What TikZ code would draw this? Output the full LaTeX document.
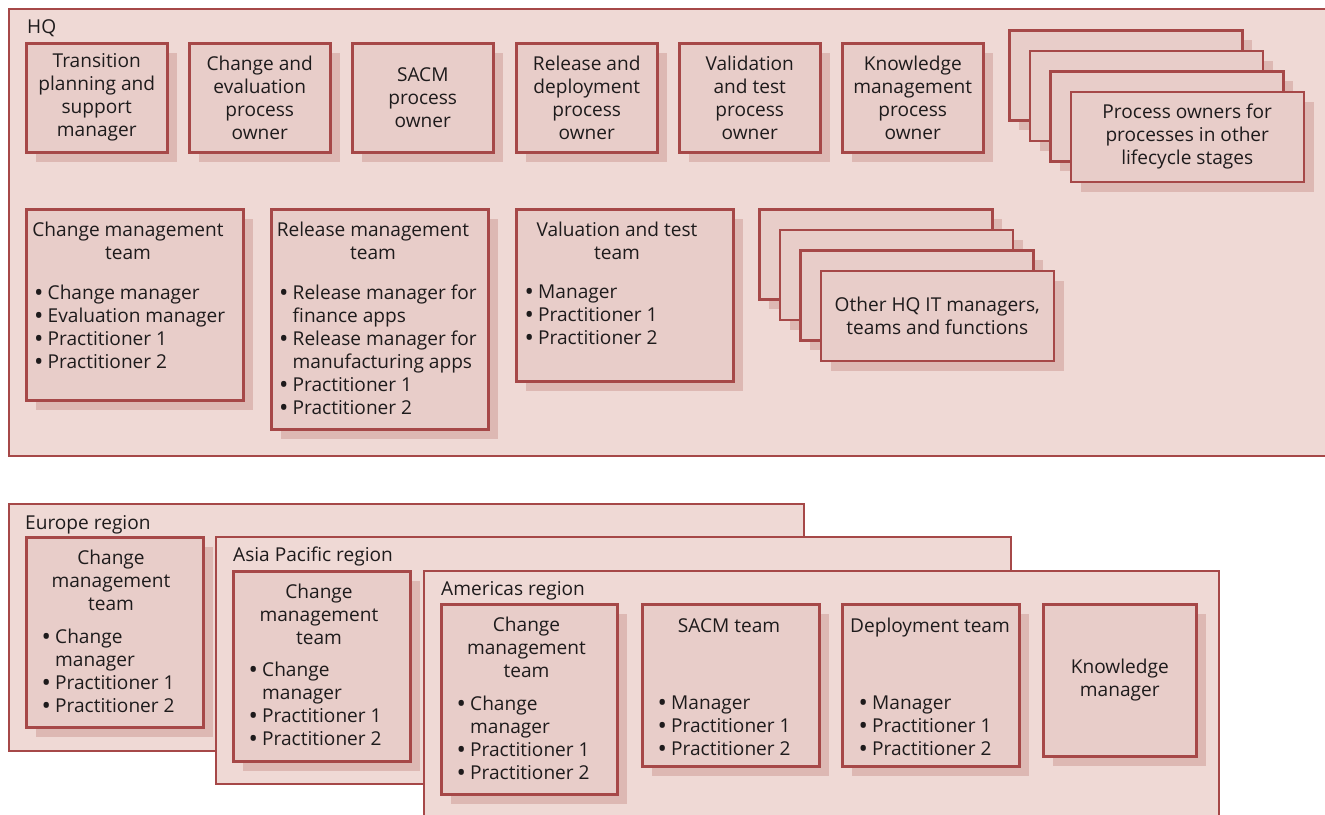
\documentclass[tikz,border=0pt]{standalone}
\usepackage{fontspec}
\setmainfont{Open Sans}
\usetikzlibrary{shadows}
\definecolor{bord}{RGB}{166,72,72}
\definecolor{bgc}{RGB}{239,217,213}
\definecolor{cardc}{RGB}{232,205,201}
\definecolor{shad}{RGB}{221,184,179}
\definecolor{ink}{RGB}{30,27,28}
\newcommand\cfont{\fontsize{19.1pt}{23pt}\selectfont}
\newcommand\bitem{\makebox[13.5pt][l]{\raisebox{-1.6pt}{\fontsize{25pt}{23pt}\selectfont\textbullet}}}
\newcommand\bcont{\hspace*{13.5pt}}
\begin{document}
\begin{tikzpicture}[x=1pt,y=-1pt,
 region/.style={draw=bord, fill=bgc, line width=2pt, anchor=north west, inner sep=0pt},
 card/.style={draw=bord, fill=cardc, line width=2.5pt, anchor=north west, inner sep=0pt,
   align=center, text=ink, font=\cfont,
   drop shadow={shadow xshift=10pt, shadow yshift=-10pt, fill=shad, opacity=1}},
 txt/.style={inner sep=0pt, text=ink, font=\cfont, execute at begin node=\strut},
 ctitle/.style={txt, anchor=north, align=center},
 clist/.style={txt, anchor=north west, align=left},
 rlabel/.style={txt, anchor=north west, align=left}]
\useasboundingbox (0,0) rectangle (1325,814);

% HQ
\node[region, minimum width=1330pt, minimum height=447pt] (hq) at (8,8) {};
\node[rlabel] (hql) at (27,17.5) {HQ};

\node[card, minimum width=141pt, minimum height=109pt] (t1) at (25,42) {Transition\\planning and\\support\\manager};
\node[card, minimum width=141pt, minimum height=109pt] (t2) at (188,42) {Change and\\evaluation\\process\\owner};
\node[card, minimum width=141pt, minimum height=109pt] (t3) at (351,42) {SACM\\process\\owner};
\node[card, minimum width=141pt, minimum height=109pt] (t4) at (515,42) {Release and\\deployment\\process\\owner};
\node[card, minimum width=141pt, minimum height=109pt] (t5) at (678,42) {Validation\\and test\\process\\owner};
\node[card, minimum width=141pt, minimum height=109pt] (t6) at (841,42) {Knowledge\\management\\process\\owner};

\node[card, minimum width=233pt, minimum height=90pt] (p1) at (1008,29) {};
\node[card, minimum width=233pt, minimum height=90pt] (p2) at (1028.5,49.5) {};
\node[card, minimum width=233pt, minimum height=90pt] (p3) at (1049,70) {};
\node[card, minimum width=233pt, minimum height=90pt] (p4) at (1069.5,90.5) {Process owners for\\processes in other\\lifecycle stages};

% HQ teams
\node[card, minimum width=217pt, minimum height=191pt] (c1) at (25,208) {};
\node[ctitle] (c1t) at (128,221.5) {Change management\\team};
\node[clist] (c1l) at (34,285) {\bitem Change manager\\\bitem Evaluation manager\\\bitem Practitioner 1\\\bitem Practitioner 2};

\node[card, minimum width=217pt, minimum height=220pt] (c2) at (270,208) {};
\node[ctitle] (c2t) at (373,221.5) {Release management\\team};
\node[clist] (c2l) at (279,285) {\bitem Release manager for\\\bcont finance apps\\\bitem Release manager for\\\bcont manufacturing apps\\\bitem Practitioner 1\\\bitem Practitioner 2};

\node[card, minimum width=217pt, minimum height=172pt] (c3) at (515,208) {};
\node[ctitle] (c3t) at (617,221.5) {Valuation and test\\team};
\node[clist] (c3l) at (524.5,285) {\bitem Manager\\\bitem Practitioner 1\\\bitem Practitioner 2};

\node[card, minimum width=233pt, minimum height=90pt] (o1) at (758,208) {};
\node[card, minimum width=233pt, minimum height=90pt] (o2) at (778.5,228.5) {};
\node[card, minimum width=233pt, minimum height=90pt] (o3) at (799,249) {};
\node[card, minimum width=233pt, minimum height=90pt] (o4) at (819.5,269.5) {Other HQ IT managers,\\teams and functions};

% Europe
\node[region, minimum width=795pt, minimum height=247pt] (eu) at (8,503) {};
\node[rlabel] (eul) at (25,513) {Europe region};
\node[card, minimum width=177pt, minimum height=190pt] (e1) at (25,536) {};
\node[ctitle] (e1t) at (111,549.5) {Change\\management\\team};
\node[clist] (e1l) at (41.5,629) {\bitem Change\\\bcont manager\\\bitem Practitioner 1\\\bitem Practitioner 2};

% Asia Pacific
\node[region, minimum width=795pt, minimum height=247pt] (ap) at (215,536) {};
\node[rlabel] (apl) at (233,545) {Asia Pacific region};
\node[card, minimum width=177pt, minimum height=190pt] (a1) at (232,570) {};
\node[ctitle] (a1t) at (319,583.5) {Change\\management\\team};
\node[clist] (a1l) at (248.5,662) {\bitem Change\\\bcont manager\\\bitem Practitioner 1\\\bitem Practitioner 2};

% Americas
\node[region, minimum width=795pt, minimum height=260pt] (am) at (423,570) {};
\node[rlabel] (aml) at (441,579) {Americas region};
\node[card, minimum width=176pt, minimum height=190pt] (m1) at (440,603) {};
\node[ctitle] (m1t) at (526.5,616.5) {Change\\management\\team};
\node[clist] (m1l) at (456.5,696) {\bitem Change\\\bcont manager\\\bitem Practitioner 1\\\bitem Practitioner 2};

\node[card, minimum width=177pt, minimum height=162pt] (m2) at (641,603) {};
\node[ctitle] (m2t) at (729,616.5) {SACM team};
\node[clist] (m2l) at (657.5,696) {\bitem Manager\\\bitem Practitioner 1\\\bitem Practitioner 2};

\node[card, minimum width=177pt, minimum height=162pt] (m3) at (841,603) {};
\node[ctitle] (m3t) at (930,616.5) {Deployment team};
\node[clist] (m3l) at (858.5,696) {\bitem Manager\\\bitem Practitioner 1\\\bitem Practitioner 2};

\node[card, minimum width=153pt, minimum height=152pt] (m4) at (1042,603) {Knowledge\\manager};
\end{tikzpicture}
\end{document}
